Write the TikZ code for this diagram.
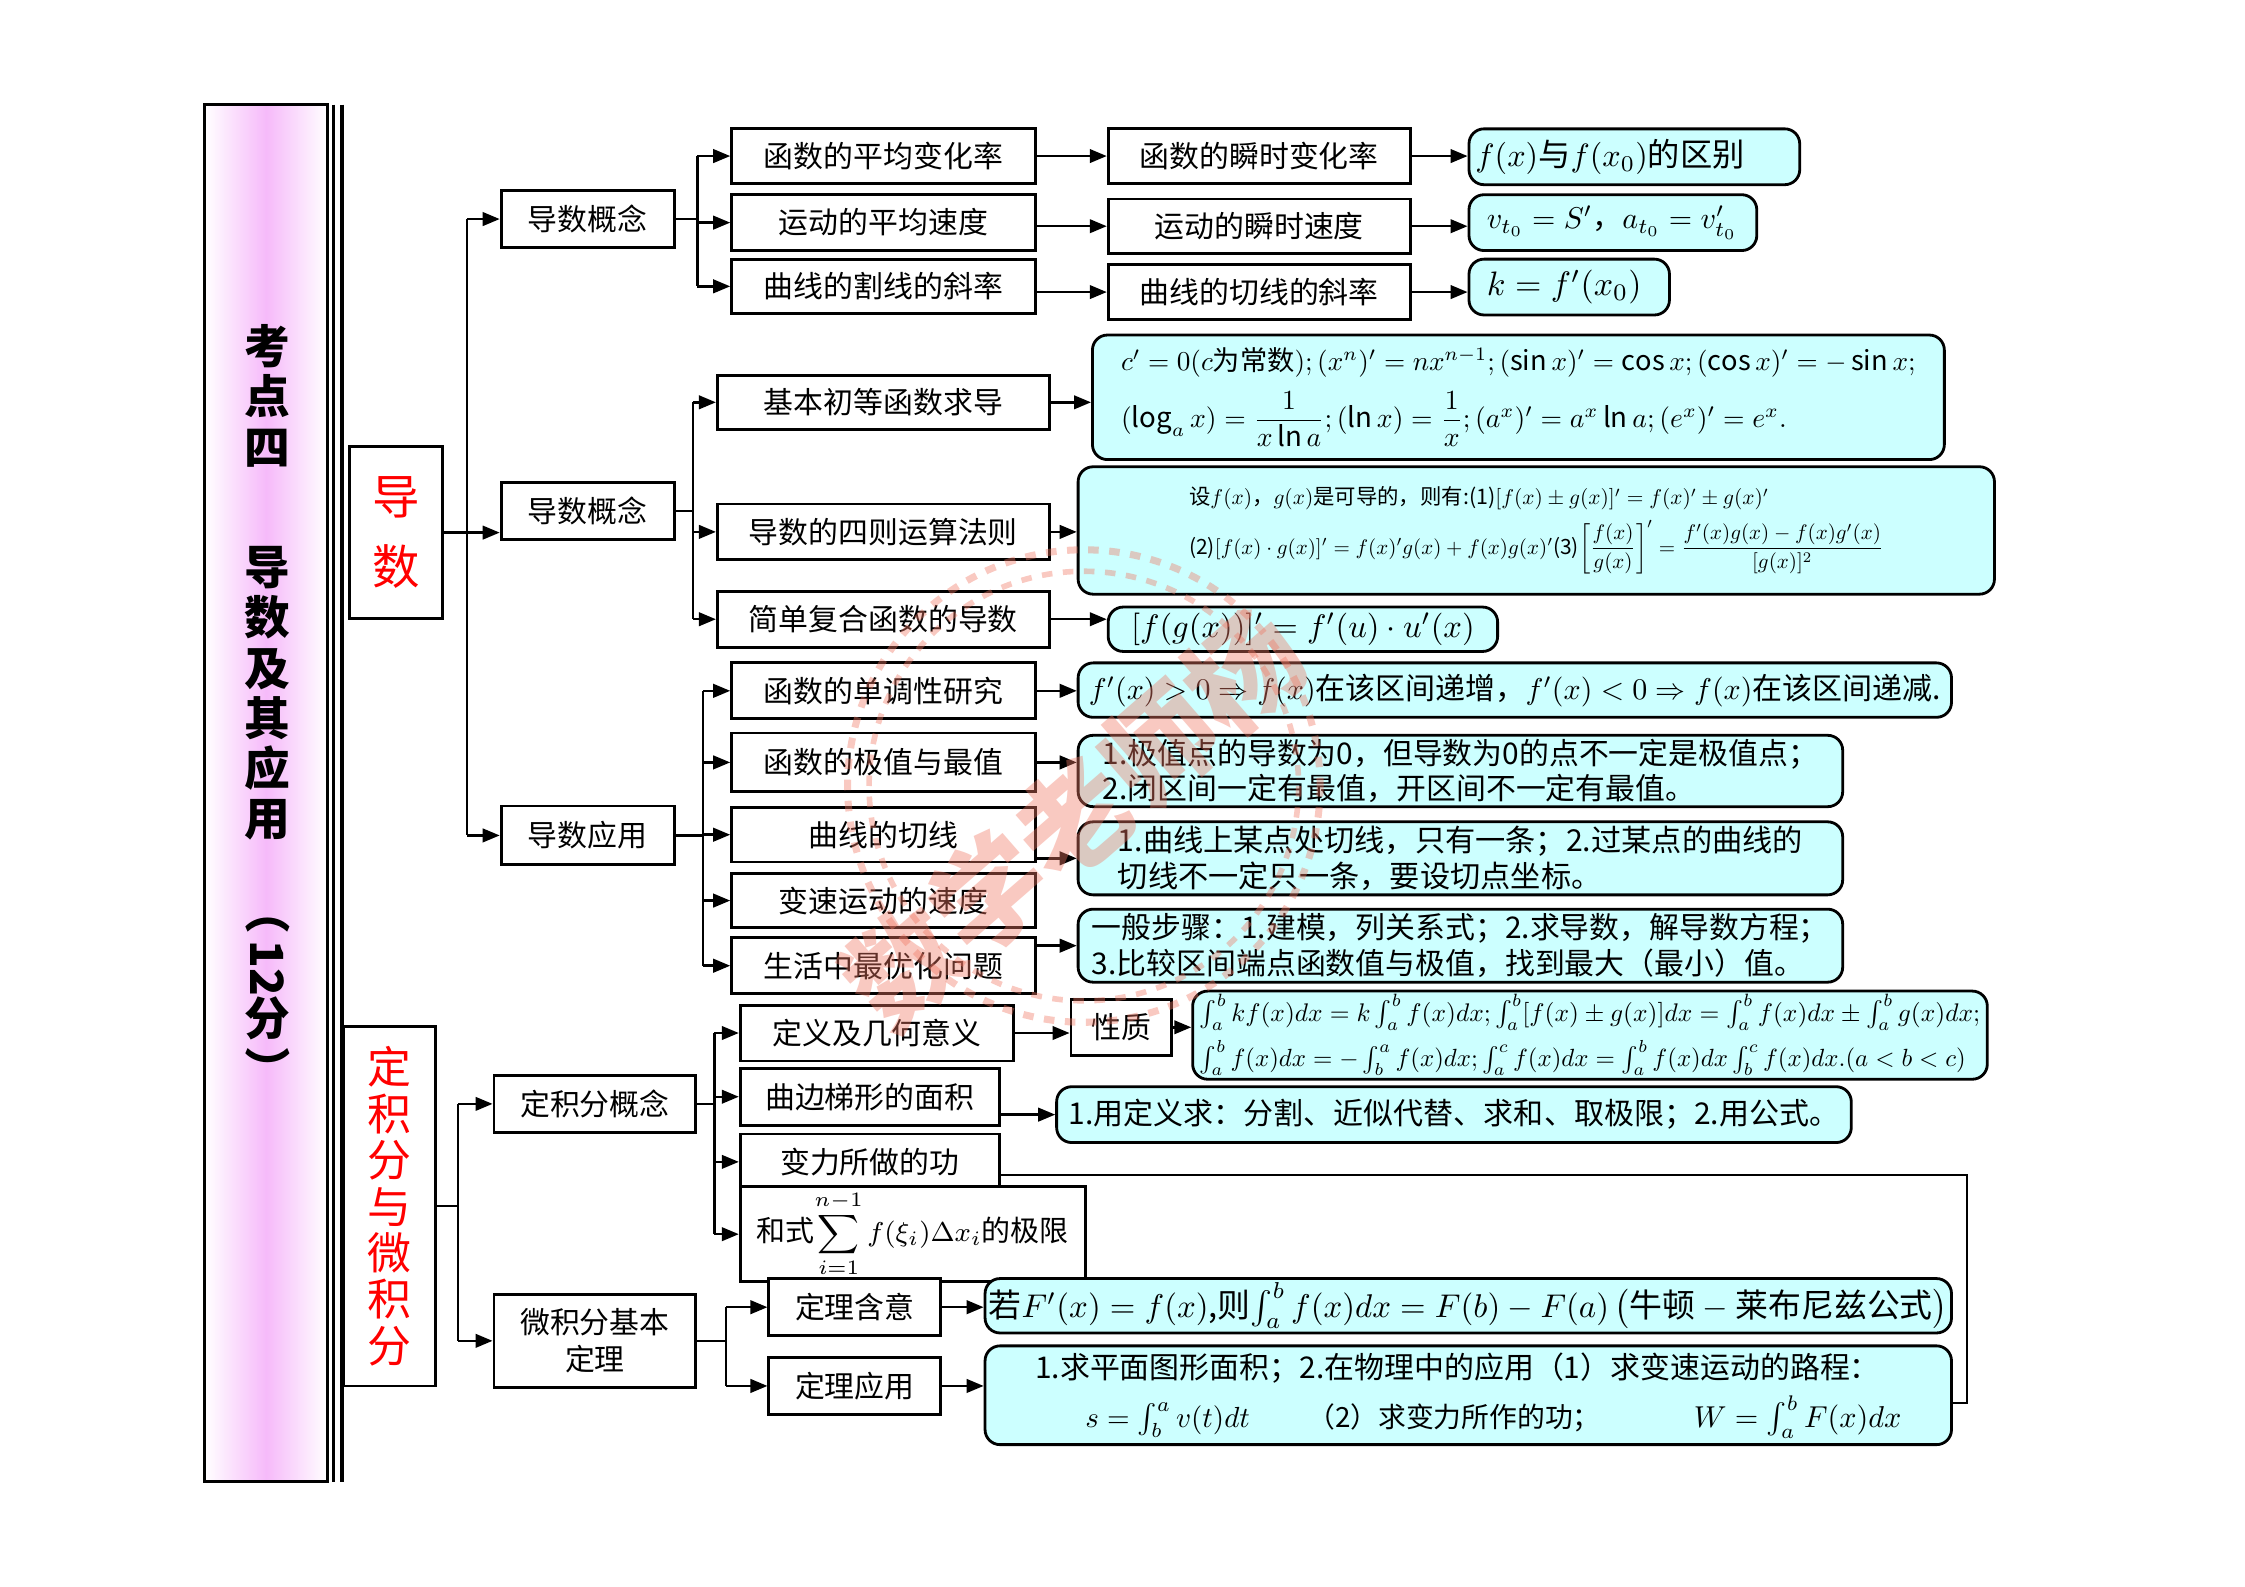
\documentclass[tikz,border=0pt]{standalone}
\usepackage{fontspec}
\setmainfont{Noto Sans CJK SC}
\usepackage{amsmath}
\usetikzlibrary{arrows.meta}

\definecolor{cyanbg}{RGB}{204,255,255}
\definecolor{titlepink}{RGB}{246,186,250}
\definecolor{stampred}{RGB}{240,120,100}
\newdimen\pxl \pxl=0.14318mm
\newcommand{\fsz}[2]{\fontsize{#1}{#2}\selectfont}
\newcommand{\fitw}[2]{\resizebox{#1\pxl}{!}{#2}}

\begin{document}
\begin{tikzpicture}[x=0.14318mm,y=-0.14318mm,
  box/.style={draw, line width=0.8pt, fill=white, inner sep=1pt, align=center, font=\fsz{8.5}{10.5}},
  cybox/.style={draw, line width=0.8pt, fill=cyanbg, rounded corners=1.5mm, inner sep=1pt, align=left},
  sz/.style 2 args={minimum width=#1*0.14318mm, minimum height=#2*0.14318mm},
  arr/.style={-{Triangle[length=1.7mm,width=1.35mm]}, line width=0.7pt},
  link/.style={line width=0.7pt}]
\useasboundingbox (0,0) rectangle (1568,1108);

% title column
\node[draw, line width=0.8pt, sz={86}{962}, left color=white, right color=white, middle color=titlepink] (ttlbox) at (186,554) {};
\node[anchor=north, align=center, font=\fsz{13}{14.3}\bfseries] (ttl) at (187,218)
  {考\\点\\四\\[20pt]导\\数\\及\\其\\应\\用\\[12pt]\rotatebox[origin=c]{-90}{（}\\[2pt]\rotatebox[origin=c]{-90}{12}\\分\\\rotatebox[origin=c]{-90}{）}};
\draw[line width=1pt] (233,73) -- (233,1035);
\draw[line width=1pt] (239,73) -- (239,1035);

% main parts
\node[box, sz={65}{120}, font=\fsz{13.5}{20}, text=red] (ds) at (276.5,372) {导\\数};
\node[box, sz={64}{251}, font=\fsz{12.5}{13.2}, text=red] (jf) at (272,842.5) {定\\积\\分\\与\\微\\积\\分};

% second level
\node[box, sz={121}{40}] (gn1) at (410.5,153) {导数概念};
\node[box, sz={121}{40}] (gn2) at (410.5,357) {导数概念};
\node[box, sz={121}{41}] (yy) at (410.5,583.5) {导数应用};
\node[box, sz={141}{40}] (jfgn) at (415.5,771) {定积分概念};
\node[box, sz={141}{65}] (wjf) at (415.5,936.5) {微积分基本\\定理};

% derivative concept
\node[box, sz={212}{38}] (a1) at (617,109) {函数的平均变化率};
\node[box, sz={212}{39}] (a2) at (617,155.5) {运动的平均速度};
\node[box, sz={212}{38}] (a3) at (617,200) {曲线的割线的斜率};
\node[box, sz={211}{38}] (b1) at (879.5,109) {函数的瞬时变化率};
\node[box, sz={211}{38}] (b2) at (879.5,158) {运动的瞬时速度};
\node[box, sz={211}{38}] (b3) at (879.5,204) {曲线的切线的斜率};
\node[cybox, sz={231}{39}] (c1) at (1141.5,109.5)
  {\makebox[222\pxl][l]{\fitw{188}{$f(x)$与$f(x_0)$的区别}}};
\node[cybox, sz={201}{39}] (c2) at (1126.5,155.5)
  {\makebox[192\pxl][l]{\hspace{8\pxl}\fitw{175}{$v_{t_0}=S'$，$a_{t_0}=v'_{t_0}$}}};
\node[cybox, sz={140}{39}] (c3) at (1096,200.5)
  {\makebox[131\pxl][l]{\hspace{8\pxl}\fitw{108}{$k=f'(x_0)$}}};

% derivative computation
\node[box, sz={232}{38}] (d1) at (617,281) {基本初等函数求导};
\node[box, sz={232}{39}] (d2) at (617,371.5) {导数的四则运算法则};
\node[box, sz={232}{39}] (d3) at (617,432.5) {简单复合函数的导数};
\node[cybox, sz={595}{87}] (e1) at (1060.5,277.5)
  {\fitw{555}{$c'=0(c\mbox{为常数});(x^n)'=nx^{n-1};(\sin x)'=\cos x;(\cos x)'=-\sin x;$}\\[3pt]
   \fitw{465}{$(\log_a x)=\dfrac{1}{x\ln a};(\ln x)=\dfrac{1}{x};(a^x)'=a^x\ln a;(e^x)'=e^x.$}};
\node[cybox, sz={640}{89}] (e2) at (1073,370.5)
  {\fitw{405}{设$f(x)$，$g(x)$是可导的，则有:(1)$[f(x)\pm g(x)]'=f(x)'\pm g(x)'$}\\[2pt]
   \fitw{485}{(2)$[f(x)\cdot g(x)]'=f(x)'g(x)+f(x)g(x)'$(3)$\left[\dfrac{f(x)}{g(x)}\right]'=\dfrac{f'(x)g(x)-f(x)g'(x)}{[g(x)]^2}$}};
\node[cybox, sz={272}{31}] (e3) at (910,439.5) {\fitw{240}{$[f(g(x))]'=f'(u)\cdot u'(x)$}};

% derivative applications
\node[box, sz={212}{39}] (f1) at (617,482.5) {函数的单调性研究};
\node[box, sz={212}{41}] (f2) at (617,532.5) {函数的极值与最值};
\node[box, sz={212}{38}] (f3) at (617,583) {曲线的切线};
\node[box, sz={212}{38}] (f4) at (617,629) {变速运动的速度};
\node[box, sz={212}{39}] (f5) at (617,674.5) {生活中最优化问题};
\node[cybox, sz={610}{38}] (g1) at (1058,482)
  {\fitw{595}{$f'(x)>0\Rightarrow f(x)$在该区间递增，$f'(x)<0\Rightarrow f(x)$在该区间递减.}};
\node[cybox, sz={534}{49}, font=\fsz{8.5}{10.2}] (g2) at (1020,538.5)
  {1.极值点的导数为0，但导数为0的点不一定是极值点；\\2.闭区间一定有最值，开区间不一定有最值。};
\node[cybox, sz={534}{51}, font=\fsz{8.6}{10.2}] (g3) at (1020,599.5)
  {1.曲线上某点处切线，只有一条；2.过某点的曲线的\\切线不一定只一条，要设切点坐标。};
\node[cybox, sz={534}{51}, font=\fsz{8.5}{10.2}] (g5) at (1020,660.5)
  {一般步骤：1.建模，列关系式；2.求导数，解导数方程；\\3.比较区间端点函数值与极值，找到最大（最小）值。};

% definite integral
\node[box, sz={191}{39}] (h1) at (612.5,721.5) {定义及几何意义};
\node[box, sz={181}{40}] (h2) at (607.5,766) {曲边梯形的面积};
\node[box, sz={181}{39}] (h3) at (607.5,811.5) {变力所做的功};
\node[box, sz={241}{48}] (h4) at (637.5,862)
  {\fitw{218}{和式$\displaystyle\sum_{i=1}^{n-1}f(\xi_i)\Delta x_i$的极限}};
\node[box, sz={70}{39}] (xz) at (783,717.5) {性质};
\node[cybox, sz={555}{60}] (i1) at (1110.5,723)
  {\fitw{545}{$\int_a^b kf(x)dx=k\int_a^b f(x)dx;\int_a^b[f(x)\pm g(x)]dx=\int_a^b f(x)dx\pm\int_a^b g(x)dx;$}\\[1pt]
   \fitw{535}{$\int_a^b f(x)dx=-\int_b^a f(x)dx;\int_a^c f(x)dx=\int_a^b f(x)dx\int_b^c f(x)dx.(a<b<c)$}};
\node[cybox, sz={555}{39}] (i2) at (1015.5,778.5)
  {\fitw{538}{1.用定义求：分割、近似代替、求和、取极限；2.用公式。}};

% fundamental theorem
\node[box, sz={120}{40}] (k1) at (597,913) {定理含意};
\node[box, sz={120}{40}] (k2) at (597,968) {定理应用};
\node[cybox, sz={675}{38}] (j1) at (1025.5,912)
  {\fitw{670}{若$F'(x)=f(x)$,则$\int_a^b f(x)dx=F(b)-F(a)\left(\mbox{牛顿}-\mbox{莱布尼兹公式}\right)$}};
\node[cybox, sz={675}{69}] (j2) at (1025.5,974.5)
  {\fitw{590}{1.求平面图形面积；2.在物理中的应用（1）求变速运动的路程：}\\[2pt]
   \hspace{35\pxl}\makebox[155\pxl][l]{\fitw{115}{$s=\int_b^a v(t)dt$}}\makebox[270\pxl][l]{\fitw{205}{（2）求变力所作的功；}}\fitw{145}{$W=\int_a^b F(x)dx$}\hspace{25\pxl}};

% connectors, first level
\coordinate (t1) at (326,0);
\coordinate (t2) at (320,0);
\draw[arr] (ds.east) -- (ds.east -| gn2.west);
\draw[link] (t1 |- gn1) -- (t1 |- yy);
\draw[arr] (t1 |- gn1) -- (gn1.west);
\draw[arr] (t1 |- yy) -- (yy.west);
\draw[link] (jf.east) -- (jf.east -| t2);
\draw[link] (t2 |- jfgn) -- (t2 |- wjf);
\draw[arr] (t2 |- jfgn) -- (jfgn.west);
\draw[arr] (t2 |- wjf) -- (wjf.west);

% branches
\coordinate (ba) at (487,0);
\coordinate (bb) at (484,0);
\coordinate (bc) at (491,0);
\coordinate (bd) at (499,0);
\coordinate (be) at (507,0);
\draw[link] (gn1.east) -- (gn1.east -| ba);
\draw[link] (ba |- a1) -- (ba |- a3);
\foreach \n in {a1,a2,a3} \draw[arr] (ba |- \n.west) -- (\n.west);
\draw[link] (gn2.east) -- (gn2.east -| bb);
\draw[link] (bb |- d1) -- (bb |- d3);
\foreach \n in {d1,d2,d3} \draw[arr] (bb |- \n.west) -- (\n.west);
\draw[link] (yy.east) -- (yy.east -| bc);
\draw[link] (bc |- f1) -- (bc |- f5);
\foreach \n in {f1,f2,f3,f4,f5} \draw[arr] (bc |- \n.west) -- (\n.west);
\draw[link] (jfgn.east) -- (jfgn.east -| bd);
\draw[link] (bd |- h1) -- (bd |- h4);
\foreach \n in {h1,h2,h3,h4} \draw[arr] (bd |- \n.west) -- (\n.west);
\draw[link] (wjf.east) -- (wjf.east -| be);
\draw[link] (be |- k1) -- (be |- k2);
\foreach \n in {k1,k2} \draw[arr] (be |- \n.west) -- (\n.west);

% to the right
\draw[arr] (a1.east) -- (a1.east -| b1.west);
\draw[arr] (a2.east |- b2.west) -- (b2.west);
\draw[arr] (a3.east |- b3.west) -- (b3.west);
\draw[arr] (b1.east) -- (b1.east -| c1.west);
\draw[arr] (b2.east) -- (b2.east -| c2.west);
\draw[arr] (b3.east) -- (b3.east -| c3.west);
\draw[arr] (d1.east) -- (d1.east -| e1.west);
\draw[arr] (d2.east) -- (d2.east -| e2.west);
\draw[arr] (d3.east) -- (d3.east -| e3.west);
\draw[arr] (f1.east) -- (f1.east -| g1.west);
\draw[arr] (f2.east) -- (f2.east -| g2.west);
\draw[arr] (f3.east |- g3.west) -- (g3.west);
\draw[arr] (f5.east |- g5.west) -- (g5.west);
\draw[arr] (h1.east) -- (h1.east -| xz.west);
\draw[arr] (xz.east) -- (xz.east -| i1.west);
\draw[arr] (h2.east |- i2.west) -- (i2.west);
\draw[arr] (k1.east) -- (k1.east -| j1.west);
\draw[arr] (k2.east) -- (k2.east -| j2.west);
\coordinate (bw) at (1374,0);
\draw[link] ([yshift=-1.3mm]h3.east) -- ([yshift=-1.3mm]h3.east -| bw) |- ([yshift=-0.8mm]j2.east);

% stamp
\begin{scope}[opacity=0.4]
\draw[stampred, dashed, line width=2pt] (757,549) circle (165);
\draw[stampred, dashed, line width=1.6pt] (757,549) circle (150);
\node[text=stampred, rotate=41, font=\fsz{32}{32}\bfseries] (wm) at (750,572) {数学老师杨};
\end{scope}
\end{tikzpicture}
\end{document}
